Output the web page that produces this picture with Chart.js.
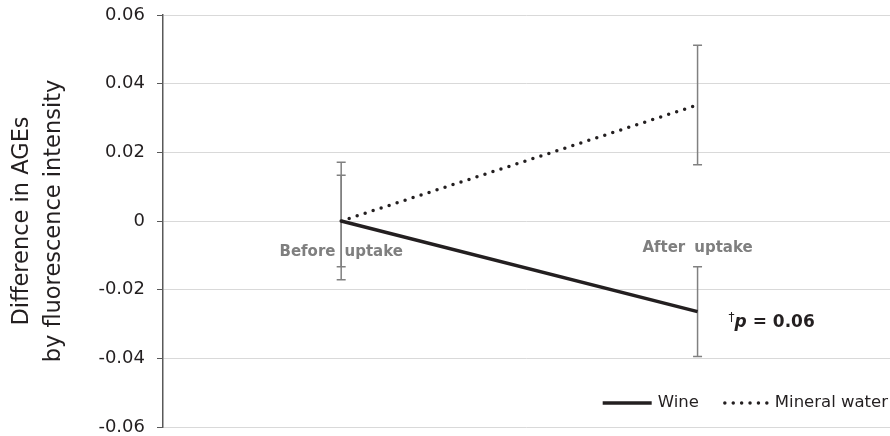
<!DOCTYPE html>
<html>
<head>
<meta charset="utf-8">
<script src="https://cdn.jsdelivr.net/npm/chart.js@4"></script>
<style>
  html, body { margin: 0; padding: 0; background: #fff; }
  #wrap { width: 890px; height: 436px; position: relative; }
</style>
</head>
<body>
<div id="wrap"><canvas id="agesChart"></canvas></div>
<script>
const categories = ['Before uptake', 'After uptake'];
const wine = [0, -0.0264];
const wineErr = [0.0133, 0.0131];
const water = [0, 0.0338];
const waterErr = [0.0171, 0.0174];
const yTicks = [-0.06, -0.04, -0.02, 0, 0.02, 0.04, 0.06];
const seriesNames = ['Wine', 'Mineral water'];
const pNote = '0.06';

const ink = '#231f20';
const font = 'DejaVu Sans';

const extras = {
    id: 'extras',
    beforeDatasetsDraw(chart) {
        const {ctx, scales: {x, y}} = chart;
        ctx.save();
        ctx.strokeStyle = '#808080';
        ctx.lineWidth = 1.5;
        [wineErr, waterErr].forEach((errs, s) => {
            const vals = s === 0 ? wine : water;
            errs.forEach((e, i) => {
                const px = x.getPixelForValue(i);
                const top = y.getPixelForValue(vals[i] + e);
                const bot = y.getPixelForValue(vals[i] - e);
                ctx.beginPath();
                ctx.moveTo(px, top); ctx.lineTo(px, bot);
                ctx.moveTo(px - 4.5, top); ctx.lineTo(px + 4.5, top);
                ctx.moveTo(px - 4.5, bot); ctx.lineTo(px + 4.5, bot);
                ctx.stroke();
            });
        });
        // category names sit just under the zero line, words spaced a bit wider
        const labelDy = [35, 31];
        ctx.fillStyle = '#7f7f7f';
        ctx.font = 'bold 15px "' + font + '"';
        ctx.textAlign = 'left';
        ctx.textBaseline = 'alphabetic';
        categories.forEach((c, i) => {
            const words = c.split(' ');
            const wa = ctx.measureText(words[0]).width;
            const wb = ctx.measureText(words[1]).width;
            const gap = 9;
            const sx = x.getPixelForValue(i) - (wa + gap + wb) / 2;
            const ty = y.getPixelForValue(0) + labelDy[i];
            ctx.fillText(words[0], sx, ty);
            ctx.fillText(words[1], sx + wa + gap, ty);
        });
        ctx.restore();
    },
    afterDatasetsDraw(chart) {
        const {ctx, chartArea, scales: {x, y}} = chart;
        ctx.save();
        ctx.fillStyle = ink;
        ctx.textBaseline = 'alphabetic';
        ctx.textAlign = 'left';

        // significance note next to the wine end point
        let nx = x.getPixelForValue(1) + 31;
        const ny = y.getPixelForValue(wine[1]) + 15;
        ctx.font = '12px "' + font + '"';
        ctx.fillText('\u2020', nx, ny - 6);
        nx += ctx.measureText('\u2020').width;
        ctx.font = 'bold italic 17px "' + font + '"';
        ctx.fillText('p', nx, ny);
        nx += ctx.measureText('p').width;
        ctx.font = 'bold 17px "' + font + '"';
        ctx.fillText(' = ' + pNote, nx, ny);

        // legend, bottom right
        ctx.font = '16.5px "' + font + '"';
        const ly = 403;
        const w0 = ctx.measureText(seriesNames[0]).width;
        const w1 = ctx.measureText(seriesNames[1]).width;
        let lx = chartArea.right - 2 - w1 - 5 - 47 - 24 - w0 - 6 - 49;
        ctx.strokeStyle = ink;
        ctx.lineWidth = 3.5;
        ctx.beginPath(); ctx.moveTo(lx, ly); ctx.lineTo(lx + 49, ly); ctx.stroke();
        lx += 49 + 6;
        ctx.textBaseline = 'middle';
        ctx.fillText(seriesNames[0], lx, ly);
        lx += w0 + 24;
        ctx.lineCap = 'round';
        ctx.setLineDash([0, 8.4]);
        ctx.beginPath(); ctx.moveTo(lx + 2, ly); ctx.lineTo(lx + 47, ly); ctx.stroke();
        ctx.setLineDash([]);
        lx += 47 + 5;
        ctx.fillText(seriesNames[1], lx, ly);
        ctx.restore();
    }
};

new Chart(document.getElementById('agesChart'), {
    type: 'line',
    data: {
        datasets: [{
            label: seriesNames[0],
            data: wine.map((v, i) => ({x: i, y: v})),
            borderColor: ink,
            borderWidth: 3.5,
            pointRadius: 0,
        }, {
            label: seriesNames[1],
            data: water.map((v, i) => ({x: i, y: v})),
            borderColor: ink,
            borderWidth: 3.5,
            borderDash: [0, 8.4],
            borderCapStyle: 'round',
            pointRadius: 0,
        }]
    },
    options: {
        responsive: true,
        maintainAspectRatio: false,
        animation: false,
        layout: { padding: { top: 15, bottom: 9, left: 0, right: 0 } },
        plugins: {
            legend: { display: false },
            tooltip: { enabled: false }
        },
        scales: {
            x: {
                type: 'linear',
                display: false,
                min: -0.5,
                max: 1.54,
            },
            y: {
                min: -0.06,
                max: 0.06,
                afterFit: (scale) => {
                    scale.width = 163;
                    scale.paddingTop = 0;
                    scale.paddingBottom = 0;
                },
                afterBuildTicks: (scale) => { scale.ticks = yTicks.map(v => ({value: v})); },
                border: { color: '#595959', width: 1.5 },
                grid: {
                    color: '#d9d9d9',
                    lineWidth: 1,
                    tickLength: 6,
                    tickColor: '#595959',
                },
                ticks: {
                    padding: 12,
                    color: ink,
                    font: { family: font, size: 18, lineHeight: 1 },
                    callback: (v) => Math.abs(v) < 1e-9 ? '0' : v.toFixed(2),
                },
                title: {
                    display: true,
                    text: ['Difference in AGEs', 'by fluorescence intensity'],
                    color: ink,
                    font: { family: font, size: 22.5, lineHeight: 1.45 },
                    padding: { top: 5.5, bottom: 0 },
                }
            }
        }
    },
    plugins: [extras]
});
</script>
</body>
</html>
